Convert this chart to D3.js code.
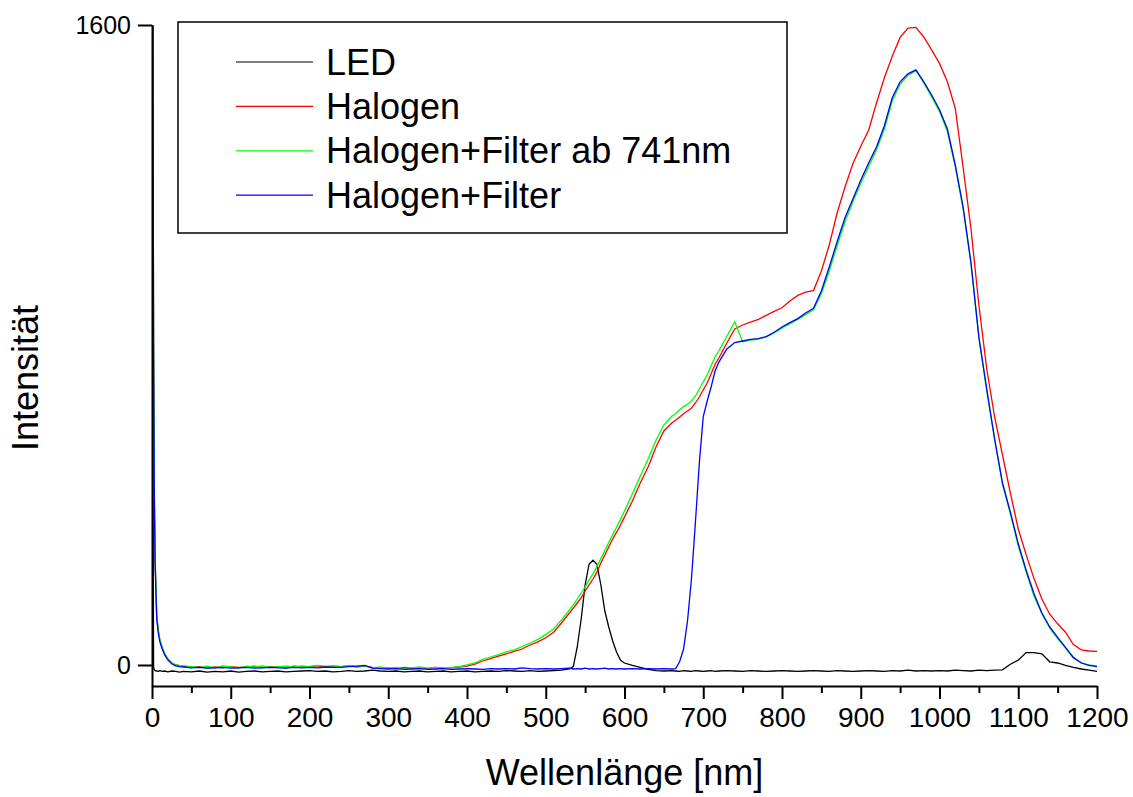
<!DOCTYPE html>
<html>
<head>
<meta charset="utf-8">
<script src="https://cdn.jsdelivr.net/npm/d3@7"></script>
<style>
    body { margin: 0; background: #fff; }
    text { font-family: "Liberation Sans", Arial, sans-serif; fill: #000; }
</style>
</head>
<body>
<div id="chart-area"></div>
<script>

// wavelength grid [nm]
var wavelength = [0,1,2,3,4,6,8,10,13,16,20,25,30,35,40,
    50,60,70,80,90,100,110,120,130,140,150,160,170,180,190,200,210,220,230,240,250,260,270,280,290,
    300,310,320,330,340,350,360,370,380,390,400,410,420,430,440,450,460,470,480,490,500,510,520,530,
    535,540,545,550,555,560,565,570,575,580,585,590,595,600,
    610,620,630,640,650,660,
    665,670,675,680,685,690,695,700,705,710,715,720,
    730,740,750,760,770,780,790,800,810,820,830,840,850,860,870,880,890,900,910,920,930,940,950,960,970,980,990,1000,
    1010,1020,1030,1040,1050,1060,1070,1080,1090,1100,1110,1120,1130,1140,1150,1160,1170,1180,1190,1200];

var led = [2200,600,-5,-12,-14,-15,-16,-14,-16,-15,-17,-15,-16,-18,-16,
    -17,-15,-18,-16,-17,-15,-18,-16,-15,-17,-16,-15,-17,-16,-15,-14,-16,-15,-17,-16,-14,-16,-15,-13,-15,
    -16,-15,-17,-16,-15,-17,-16,-15,-17,-16,-15,-17,-16,-15,-16,-14,-15,-16,-14,-16,-15,-14,-13,-10,
    -4,45,115,200,252,262,252,200,135,95,60,32,12,5,
    -1,-6,-11,-14,-15,-14,
    -15,-16,-14,-15,-16,-14,-15,-16,-15,-14,-16,-15,
    -14,-15,-16,-14,-15,-16,-15,-14,-15,-16,-15,-14,-15,-16,-14,-15,-16,-15,-14,-15,-16,-14,-15,-13,-15,-14,-15,-14,
    -15,-13,-14,-15,-13,-14,-13,-12,2,12,31,31,28,8,5,-1,-6,-10,-13,-16];

var halogen = [2200,1700,800,420,260,120,85,62,42,28,15,5,0,-2,-3,
    -6,-4,-8,-5,-7,-4,-6,-5,-3,-6,-5,-4,-7,-3,-5,-4,-2,-5,-3,-4,-2,-5,-3,-6,-8,
    -7,-9,-6,-8,-7,-9,-6,-8,-7,-5,-3,2,10,16,22,28,34,40,50,58,68,82,105,130,
    142,155,168,185,200,215,232,255,275,295,315,332,350,370,
    410,455,495,545,585,605,
    612,620,628,635,642,655,670,688,705,728,752,768,
    805,840,850,857,864,874,884,893,910,924,932,936,985,1050,1130,1195,1253,1297,1337,1405,1468,1522,1569,1592,1594,1570,1538,1504,
    1458,1392,1244,1090,900,740,620,525,430,340,276,216,165,127,103,82,51,38,35,34];

var halogenFilter741 = [2200,1700,820,430,265,125,88,64,44,30,16,6,1,-1,-2,
    -4,-6,-3,-7,-2,-5,-8,-3,-5,-2,-6,-4,-3,-5,-2,-4,-1,-3,-2,-4,-1,-3,-2,-7,-5,
    -8,-6,-9,-7,-5,-8,-6,-9,-6,-4,0,5,14,20,26,33,38,46,55,64,76,90,113,138,
    150,165,180,195,212,228,246,266,286,306,326,345,364,385,
    428,472,515,562,600,622,
    628,638,646,652,660,672,690,708,725,748,770,786,
    822,858,808,812,815,820,830,842,853,864,876,888,928,985,1048,1108,1158,1204,1246,1288,1340,1410,1452,1474,1486,1456,1420,1384,
    1334,1246,1140,1004,818,684,564,452,378,298,233,172,128,92,66,42,17,6,0,-2];

var halogenFilter = [2200,1700,780,400,250,115,80,58,40,26,13,3,-2,-4,-5,
    -7,-6,-8,-7,-6,-8,-7,-6,-8,-7,-6,-7,-8,-6,-7,-6,-7,-5,-6,-6,-4,-3,-1,-8,-9,
    -10,-9,-11,-10,-9,-11,-10,-9,-11,-10,-9,-10,-11,-9,-10,-9,-10,-7,-9,-10,-9,-10,-9,-8,
    -10,-9,-10,-8,-10,-9,-10,-9,-8,-10,-9,-10,-9,-10,
    -9,-10,-9,-10,-9,-10,
    -9,8,40,110,215,355,505,621,660,695,735,758,
    790,806,810,814,816,821,832,845,856,866,880,892,935,995,1058,1118,1165,1212,1255,1295,1348,1418,1458,1478,1488,1458,1425,1388,
    1340,1250,1145,1005,820,690,565,455,382,303,237,178,130,95,69,44,19,5,-1,-4];

var seriesNames = ["LED", "Halogen", "Halogen+Filter ab 741nm", "Halogen+Filter"];
var seriesColors = ["#000000", "#ff0000", "#00ff00", "#0000ff"];
var seriesValues = [led, halogen, halogenFilter741, halogenFilter];

var xTicks = [0,100,200,300,400,500,600,700,800,900,1000,1100,1200];
var xMinorTicks = [50,150,250,350,450,550,650,750,850,950,1050,1150];
var yTicks = [0, 1600];

// dimensions
var svgWidth = 1133, svgHeight = 797;
var plot = { left: 152, right: 1097, top: 25, bottom: 686 };

var svg = d3.select("#chart-area").append("svg")
    .attr("width", svgWidth)
    .attr("height", svgHeight);

var x = d3.scaleLinear().domain([0, 1200]).range([plot.left, plot.right]);
var y = d3.scaleLinear().domain([-52.5, 1600]).range([plot.bottom, plot.top]);

svg.append("clipPath").attr("id", "clip")
    .append("rect")
    .attr("x", plot.left)
    .attr("y", plot.top)
    .attr("width", plot.right - plot.left)
    .attr("height", plot.bottom - plot.top);

// lines
var line = d3.line()
    .x(function(d) { return x(d[0]); })
    .y(function(d) { return y(d[1]); });

var lines = svg.append("g").attr("clip-path", "url(#clip)");
seriesValues.forEach(function(values, i) {
    lines.append("path")
        .datum(wavelength.map(function(w, j) { return [w, values[j]]; }))
        .attr("fill", "none")
        .attr("stroke", seriesColors[i])
        .attr("stroke-width", 1.3)
        .attr("d", line);
});

// x axis (major + minor ticks)
var xAxis = svg.append("g")
    .attr("transform", "translate(0," + plot.bottom + ")")
    .call(d3.axisBottom(x).tickValues(xTicks).tickFormat(d3.format("d"))
        .tickSize(13).tickPadding(8).tickSizeOuter(0));
var xMinor = svg.append("g")
    .attr("transform", "translate(0," + plot.bottom + ")")
    .call(d3.axisBottom(x).tickValues(xMinorTicks).tickFormat(function() { return ""; })
        .tickSize(7).tickSizeOuter(0));
xMinor.select(".domain").remove();

// y axis
var yAxis = svg.append("g")
    .attr("transform", "translate(" + plot.left + ",0)")
    .call(d3.axisLeft(y).tickValues(yTicks).tickFormat(d3.format("d"))
        .tickSize(14).tickPadding(7).tickSizeOuter(0));

svg.selectAll(".domain, .tick line")
    .style("stroke", "#000")
    .style("stroke-width", "2px");
xAxis.selectAll("text").attr("font-size", 28).attr("font-family", null);
yAxis.selectAll("text").attr("font-size", 25).attr("font-family", null);

// axis titles
svg.append("text")
    .attr("x", (plot.left + plot.right) / 2)
    .attr("y", 785)
    .attr("text-anchor", "middle")
    .attr("font-size", 36)
    .text("Wellenlänge [nm]");

svg.append("text")
    .attr("transform", "translate(38,378) rotate(-90)")
    .attr("text-anchor", "middle")
    .attr("font-size", 36)
    .text("Intensität");

// legend
var legend = svg.append("g");
legend.append("rect")
    .attr("x", 178).attr("y", 22)
    .attr("width", 609).attr("height", 211)
    .attr("fill", "#fff")
    .attr("stroke", "#000")
    .attr("stroke-width", 1.5);

seriesNames.forEach(function(name, i) {
    var ly = 62 + i * 44.4;
    legend.append("line")
        .attr("x1", 236).attr("x2", 313)
        .attr("y1", ly).attr("y2", ly)
        .attr("stroke", seriesColors[i])
        .attr("stroke-width", 1.2);
    legend.append("text")
        .attr("x", 326)
        .attr("y", ly + 12.5)
        .attr("font-size", 36)
        .text(name);
});

</script>
</body>
</html>
